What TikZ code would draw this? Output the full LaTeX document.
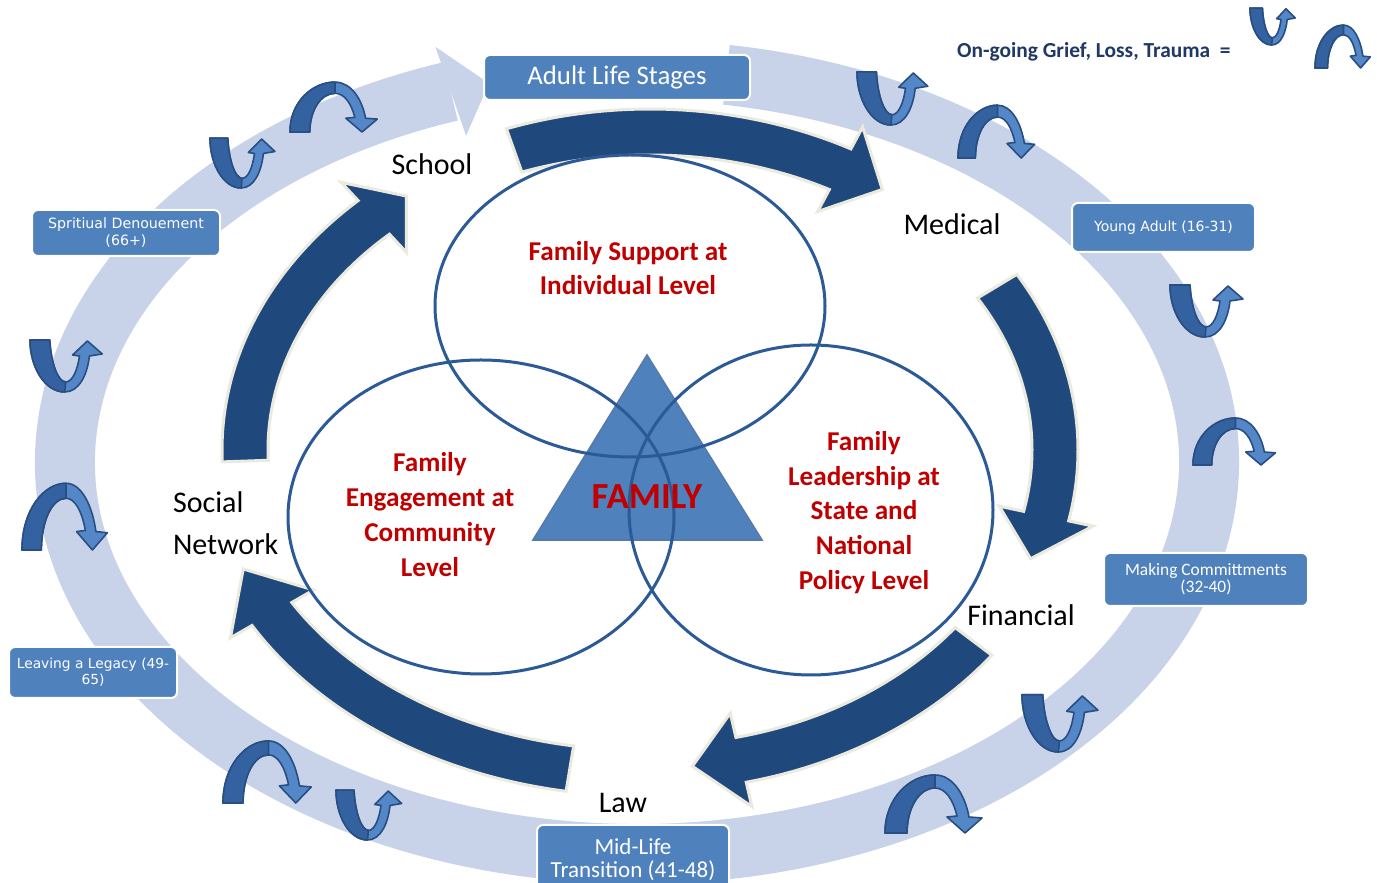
\documentclass[tikz,border=0pt]{standalone}
\usepackage{fontspec}
\setmainfont{Carlito}
\newfontfamily\boxfont{DejaVu Sans}
\definecolor{cBand}{RGB}{200,210,232}
\definecolor{cNavy}{RGB}{31,73,125}
\definecolor{cCream}{RGB}{236,234,222}
\definecolor{cBox}{RGB}{79,129,189}
\definecolor{cRing}{RGB}{44,90,150}
\definecolor{cRed}{RGB}{192,0,0}
\definecolor{cLegend}{RGB}{31,56,100}
\definecolor{cIconLight}{RGB}{84,135,200}
\definecolor{cIconMid}{RGB}{52,98,160}
\definecolor{cIconDark}{RGB}{40,78,130}
\definecolor{cTri}{RGB}{79,129,189}
\tikzset{
  stagebox/.style={fill=cBox, draw=white, line width=1pt, rounded corners=3pt, text=white, align=center, inner sep=0pt},
  redlabel/.style={text=cRed, font=\fontsize{13.6}{17.4}\selectfont\bfseries, align=center},
  place/.style={font=\fontsize{15}{21}\selectfont, text=black},
  venn/.style={draw=cRing, line width=1.5pt},
  bigarrow/.style={fill=cNavy, draw=cCream, line width=1.5pt, line join=miter},
  iconpart/.style={draw=cIconDark, line width=0.8pt, line join=round},
  griefU/.pic={
    \path[iconpart, fill=cIconLight] (0,52) .. controls (0,25) and (15,0) .. (35,0)
      .. controls (50,0) and (58,18) .. (60,36) -- (73,38) -- (58,51) -- (43,37) -- (50,36)
      .. controls (48,22) and (43,10) .. (36,10) .. controls (28,10) and (21,30) .. (20,52) -- cycle;
    \path[iconpart, fill=cIconMid] (0,52) .. controls (0,25) and (15,0) .. (35,0) -- (36,10)
      .. controls (28,10) and (21,30) .. (20,52) -- cycle;
  },
  griefN/.pic={
    \path[iconpart, fill=cIconLight] (0,0) .. controls (0,35) and (25,58) .. (50,58)
      .. controls (68,58) and (80,38) .. (84,16) -- (97,15) -- (80,0) -- (62,16) -- (72,17)
      .. controls (68,34) and (60,45) .. (50,45) .. controls (34,45) and (22,25) .. (22,0) -- cycle;
    \path[iconpart, fill=cIconMid] (0,0) .. controls (0,35) and (25,58) .. (50,58) -- (50,45)
      .. controls (34,45) and (22,25) .. (22,0) -- cycle;
  }
}
% #1 tail angle, #2 head base angle, #3 tip angle, #4 x radius, #5 y radius
\newcommand\darkarc[5]{%
  \pgfmathsetmacro\rxo{#4+23}\pgfmathsetmacro\ryo{#5+23}%
  \pgfmathsetmacro\rxi{#4-23}\pgfmathsetmacro\ryi{#5-23}%
  \pgfmathsetmacro\rxh{#4+48}\pgfmathsetmacro\ryh{#5+48}%
  \pgfmathsetmacro\rxl{#4-48}\pgfmathsetmacro\ryl{#5-48}%
  \path[bigarrow] (#1:\rxo\space and \ryo) arc[start angle=#1, end angle=#2, x radius=\rxo, y radius=\ryo]
    -- (#2:\rxh\space and \ryh) -- (#3:#4 and #5) -- (#2:\rxl\space and \ryl) -- (#2:\rxi\space and \ryi)
    arc[start angle=#2, end angle=#1, x radius=\rxi, y radius=\ryi] -- cycle;}
\begin{document}
\begin{tikzpicture}[x=0.5pt, y=0.5pt]
\useasboundingbox (0,0) rectangle (1377,883);
\fill[white] (0,0) rectangle (1377,883);

% outer light circular arrow
\begin{scope}[shift={(637,421)}]
  \draw[draw=cBand, line width=30pt] (81:572 and 392) arc[start angle=81, end angle=-251, x radius=572, y radius=392];
  \fill[cBand] (109:619 and 439) -- (105:572 and 392) -- (109:525 and 345) -- cycle;
\end{scope}

% grief icons on the ring
\pic[xscale=0.89, yscale=0.96] at (210,695) {griefU};
\pic[xscale=0.90, yscale=0.86] at (290,751) {griefN};
\pic[xscale=0.97, yscale=1.02] at (857,758) {griefU};
\pic[xscale=0.79, yscale=0.91] at (958,725) {griefN};
\pic[xscale=1.00, yscale=1.00] at (1170,546) {griefU};
\pic[xscale=0.85, yscale=0.81] at (1193,418) {griefN};
\pic[xscale=1.04, yscale=1.10] at (1022,131) {griefU};
\pic[xscale=1.00, yscale=1.00] at (885,50) {griefN};
\pic[xscale=0.90, yscale=0.96] at (336,43) {griefU};
\pic[xscale=0.91, yscale=1.07] at (223,80) {griefN};
\pic[xscale=0.99, yscale=1.00] at (30,491) {griefU};
\pic[xscale=0.88, yscale=1.15] at (22,333) {griefN};

% legend
\node[anchor=east, text=cLegend, font=\fontsize{10.7}{12}\selectfont\bfseries, inner sep=0pt] (legend) at (1231,831) {On-going Grief, Loss, Trauma~~=};
\pic[xscale=0.62, yscale=0.71] at (1250,838) {griefU};
\pic[xscale=0.57, yscale=0.74] at (1315,815) {griefN};

% stage boxes
\node[stagebox, minimum width=133pt, minimum height=22.5pt, font=\fontsize{13.4}{14}\selectfont] (adult) at (617,805.5) {Adult Life Stages};
\node[stagebox, minimum width=91.5pt, minimum height=24.5pt, font=\boxfont\fontsize{7}{8.5}\selectfont] (young) at (1163.5,655.5) {Young Adult (16-31)};
\node[stagebox, minimum width=102pt, minimum height=26.5pt, font=\fontsize{8.7}{8.6}\selectfont] (making) at (1206,303.5) {Making Committments\\(32-40)};
\node[stagebox, minimum width=96pt, minimum height=34.5pt, font=\fontsize{11.5}{11.5}\selectfont] (midlife) at (633,23.5) {Mid-Life\\Transition (41-48)};
\node[stagebox, minimum width=84pt, minimum height=25.5pt, font=\boxfont\fontsize{6.9}{8}\selectfont] (legacy) at (93,210.5) {Leaving a Legacy (49-\\65)};
\node[stagebox, minimum width=94pt, minimum height=23pt, font=\boxfont\fontsize{7.1}{8.5}\selectfont] (spirit) at (126,650) {Spritiual Denouement\\(66+)};

% inner dark circular arrows
\begin{scope}[shift={(650,433)}]
  \darkarc{109.6}{62}{55}{405}{318}
  \darkarc{31}{-12}{-20}{405}{318}
  \darkarc{-37}{-77}{-84}{405}{318}
  \darkarc{182}{133}{127}{405}{318}
\end{scope}
\begin{scope}[shift={(640,428)}]
  \darkarc{260.5}{210}{201}{425}{318}
\end{scope}

% triangle and venn circles
\path[fill=cTri, draw=cRing!80, line width=0.8pt] (647,528) -- (762,343) -- (533,343) -- cycle;
\draw[venn] (630,577) ellipse [x radius=195, y radius=151];
\draw[venn] (481,366) ellipse [x radius=193, y radius=157];
\draw[venn] (811,373) ellipse [x radius=182, y radius=165];

% texts
\node[redlabel] (indiv) at (628,615) {Family Support at\\Individual Level};
\node[redlabel] (community) at (430,368.5) {Family\\Engagement at\\Community\\Level};
\node[redlabel] (policy) at (864,370.5) {Family\\Leadership at\\State and\\National\\Policy Level};
\node[text=cRed, font=\fontsize{18.4}{20}\selectfont\bfseries] (family) at (647,386) {FAMILY};

\node[place] (school) at (432,719) {School};
\node[place] (medical) at (952,659) {Medical};
\node[place] (financial) at (1021,268) {Financial};
\node[place] (law) at (623,80) {Law};
\node[place, anchor=west, align=left] (social) at (166,360) {Social\\Network};
\end{tikzpicture}
\end{document}
